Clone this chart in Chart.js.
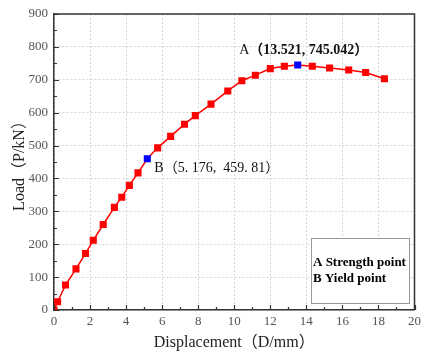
<!DOCTYPE html>
<html>
<head>
<meta charset="utf-8">
<script src="https://cdn.jsdelivr.net/npm/chart.js@4/dist/chart.umd.min.js"></script>
<style>
  html, body { margin: 0; padding: 0; background: #fff; }
  #wrap { width: 425px; height: 351px; position: relative; }
</style>
</head>
<body>
<div id="wrap"><canvas id="loadChart"></canvas></div>
<script>
// 荷重-変位データ
const displacement = [0, 0.2, 0.64, 1.22, 1.75, 2.18, 2.73, 3.35, 3.76, 4.18, 4.66, 5.176, 5.75, 6.47, 7.24,
    7.84, 8.71, 9.64, 10.42, 11.17, 12.0, 12.78, 13.521, 14.33, 15.29, 16.35, 17.29, 18.33];
const load = [0, 25, 76, 125, 172, 212, 260, 312, 343, 379, 417, 459.81, 493, 528, 565,
    591, 626, 666, 697, 714, 734, 741, 745.042, 741, 736, 730, 722, 703];

// 特性点
const strengthPoint = { x: 13.521, y: 745.042 };
const yieldPoint = { x: 5.176, y: 459.81 };

const legendLines = ['A Strength point', 'B Yield point'];

const SERIF = "'Liberation Serif', 'Noto Sans CJK SC', serif";

const points = displacement.map((d, i) => ({ x: d, y: load[i] }));
const isKey = p => (p.x === strengthPoint.x && p.y === strengthPoint.y) ||
    (p.x === yieldPoint.x && p.y === yieldPoint.y);
const pointColors = points.map(p => isKey(p) ? '#0000ff' : '#ff0000');

/**
 * 内向き目盛り・外枠・注記
 */
const decorPlugin = {
    id: 'decor',
    afterDraw(chart) {
        const { ctx, chartArea: a, scales: { x, y } } = chart;
        ctx.save();
        ctx.strokeStyle = '#333';
        ctx.lineWidth = 1.2;

        // 内向き目盛り
        ctx.beginPath();
        for (let v = 0; v <= 20; v += 1) {
            const px = Math.round(x.getPixelForValue(v)) + 0.5;
            const len = v % 2 === 0 ? 5 : 3;
            ctx.moveTo(px, a.bottom);
            ctx.lineTo(px, a.bottom - len);
        }
        for (let v = 0; v <= 900; v += 50) {
            const py = Math.round(y.getPixelForValue(v)) + 0.5;
            const len = v % 100 === 0 ? 5 : 3;
            ctx.moveTo(a.left, py);
            ctx.lineTo(a.left + len, py);
        }
        ctx.stroke();

        // 上・右の枠
        ctx.lineWidth = 1.5;
        ctx.beginPath();
        ctx.moveTo(a.left, a.top);
        ctx.lineTo(a.right, a.top);
        ctx.lineTo(a.right, a.bottom);
        ctx.stroke();

        // 注記 A
        const ax = x.getPixelForValue(strengthPoint.x);
        const ay = y.getPixelForValue(strengthPoint.y);
        ctx.fillStyle = '#111';
        ctx.textBaseline = 'middle';
        ctx.textAlign = 'left';
        const aHead = 'A';
        const aBody = '（' + strengthPoint.x.toFixed(3) + ', ' + strengthPoint.y.toFixed(3) + '）';
        ctx.font = 'bold 14px ' + SERIF;
        const bodyW = ctx.measureText(aBody).width;
        ctx.font = '14px ' + SERIF;
        const headW = ctx.measureText(aHead).width;
        const startX = ax + 6 - (headW + bodyW) / 2;
        ctx.fillText(aHead, startX, ay - 15);
        ctx.font = 'bold 14px ' + SERIF;
        ctx.fillText(aBody, startX + headW, ay - 15);

        // 注記 B
        const bx = x.getPixelForValue(yieldPoint.x);
        const by = y.getPixelForValue(yieldPoint.y);
        ctx.font = '14px ' + SERIF;
        ctx.fillText('B（5. 176,  459. 81）', bx + 7, by + 10);

        // 凡例ボックス
        const boxL = a.left + 257, boxT = a.top + 224, boxW = 98, boxH = 65;
        ctx.fillStyle = '#fff';
        ctx.fillRect(boxL, boxT, boxW, boxH);
        ctx.strokeStyle = '#999';
        ctx.lineWidth = 1;
        ctx.strokeRect(boxL + 0.5, boxT + 0.5, boxW, boxH);
        ctx.fillStyle = '#000';
        ctx.font = 'bold 13px ' + SERIF;
        legendLines.forEach((t, i) => ctx.fillText(t, boxL + 2, boxT + 25 + i * 16));
        ctx.restore();
    }
};

document.addEventListener('DOMContentLoaded', () => {
    const ctx = document.getElementById('loadChart').getContext('2d');
    new Chart(ctx, {
        type: 'scatter',
        data: {
            datasets: [{
                data: points,
                showLine: true,
                borderColor: '#ff0000',
                borderWidth: 1.5,
                pointStyle: 'rect',
                pointRadius: 5,
                pointBorderWidth: 0,
                pointBackgroundColor: pointColors,
                pointBorderColor: pointColors,
            }],
        },
        options: {
            responsive: true,
            maintainAspectRatio: false,
            animation: false,
            layout: { padding: { top: 14, right: 4, left: 0, bottom: 0 } },
            plugins: {
                legend: { display: false },
                tooltip: { enabled: false },
            },
            scales: {
                x: {
                    type: 'linear',
                    min: 0,
                    max: 20,
                    afterFit: s => { s.height = 41; },
                    ticks: {
                        stepSize: 2,
                        padding: 4,
                        color: '#555',
                        font: { family: SERIF, size: 13 },
                    },
                    grid: { color: '#d4d4d4', lineWidth: 1, drawTicks: false },
                    border: { color: '#333', width: 1.5, dash: [2, 2] },
                    title: {
                        display: true,
                        text: 'Displacement（D/mm）',
                        color: '#222',
                        font: { family: SERIF, size: 16, lineHeight: 1 },
                        padding: { top: 0, bottom: 0 },
                    },
                },
                y: {
                    min: 0,
                    max: 900,
                    afterFit: s => { s.width = 54; },
                    ticks: {
                        stepSize: 100,
                        padding: 6,
                        color: '#555',
                        font: { family: SERIF, size: 13 },
                    },
                    grid: { color: '#d4d4d4', lineWidth: 1, drawTicks: false },
                    border: { color: '#333', width: 1.5, dash: [2, 2] },
                    title: {
                        display: true,
                        text: 'Load（P/kN）',
                        color: '#222',
                        font: { family: SERIF, size: 16, lineHeight: 1.2 },
                        padding: { top: 10, bottom: 0 },
                    },
                },
            },
        },
        plugins: [decorPlugin],
    });
});
</script>
</body>
</html>
